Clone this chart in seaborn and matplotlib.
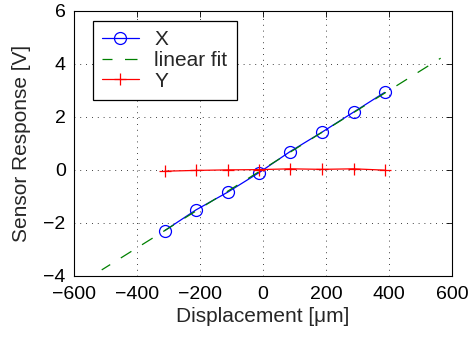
import matplotlib
matplotlib.use("Agg")
import matplotlib.pyplot as plt
import seaborn as sns

# data
disp = [-312, -213, -112, -12, 86, 187, 288, 386]
x_resp = [-2.29, -1.51, -0.84, -0.10, 0.69, 1.42, 2.18, 2.92]
y_resp = [-0.05, -0.02, 0.00, 0.01, 0.04, 0.02, 0.04, -0.01]
fit_x = [-512, 564]
fit_y = [-3.77, 4.21]
xticks = [-600, -400, -200, 0, 200, 400, 600]
yticks = [-4, -2, 0, 2, 4, 6]

sns.set_style("white")
plt.rcParams['font.family'] = ['Liberation Sans', 'DejaVu Sans']
plt.rcParams['axes.unicode_minus'] = True

fig = plt.figure(figsize=(4.70, 3.37), dpi=100)
L, R, T, B = 74, 452, 10.7, 276
ax = fig.add_axes([L/470, 1 - B/337, (R-L)/470, (B-T)/337])

sns.lineplot(x=disp, y=x_resp, ax=ax, color='#0000ff', marker='o', markersize=8.6,
             markerfacecolor='none', markeredgecolor='#0000ff', markeredgewidth=0.9,
             linewidth=0.9, label='X', sort=False)
sns.lineplot(x=fit_x, y=fit_y, ax=ax, color='#008000', linewidth=0.9,
             linestyle=(2, (10, 10)), label='linear fit', sort=False)
sns.lineplot(x=disp, y=y_resp, ax=ax, color='#ff0000', marker='+', markersize=8,
             markeredgecolor='#ff0000', markeredgewidth=0.9, linewidth=0.9,
             linestyle='-', label='Y', sort=False)

ax.set_xlim(-600, 600)
ax.set_ylim(-4, 6)
ax.set_xticks(xticks)
ax.set_yticks(yticks)
ax.grid(True, color='black', linestyle=(0, (1, 6)), linewidth=0.6)
for s in ax.spines.values():
    s.set_color('black')
    s.set_linewidth(0.8)
ax.tick_params(direction='in', length=4, width=0.6, top=True, right=True,
               labelsize=14, colors='black')
ax.tick_params(axis='x', pad=7)
ax.tick_params(axis='y', pad=6)
ax.set_xlabel('Displacement [μm]', fontsize=15, labelpad=3)
ax.set_ylabel('Sensor Response [V]', fontsize=15, labelpad=9)

leg = ax.legend(loc='upper left', bbox_to_anchor=((92.7-L)/(R-L), 1-(21-T)/(B-T)),
                fontsize=15, frameon=True, fancybox=False,
                edgecolor='black', borderaxespad=0, handlelength=1.75,
                labelspacing=0.08, borderpad=0.45, handletextpad=0.75)
leg.get_frame().set_linewidth(0.9)
leg.get_frame().set_alpha(1)

fig.savefig('out.png', dpi=100)
